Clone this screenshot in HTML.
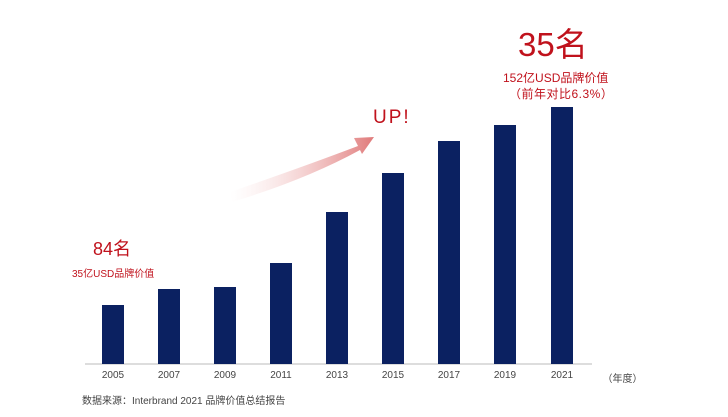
<!DOCTYPE html><html><head><meta charset="utf-8"><style>
body{margin:0;width:728px;height:417px;background:#fff;overflow:hidden;position:relative;font-family:"Liberation Sans","Noto Sans CJK SC",sans-serif}
.b{position:absolute;width:22px;background:#0b2161;bottom:53px}
.l{position:absolute;top:370px;font-size:10px;color:#444;width:40px;text-align:center}
.t{position:absolute;color:#c0121c;white-space:nowrap}
</style></head><body>
<svg width="728" height="417" style="position:absolute;left:0;top:0">
<defs><linearGradient id="g" x1="0" x2="1" y1="0" y2="0"><stop offset="0" stop-color="#f6d6d6" stop-opacity="0"/><stop offset="1" stop-color="#e07a7a"/></linearGradient></defs>
<path d="M230,192 Q300,168 358,146 L354,138 L374,137 L362,154 L360,150 Q305,180 232,202 Z" fill="url(#g)"/>
<line x1="85" y1="364" x2="592" y2="364" stroke="#bbb" stroke-width="1"/>
</svg>
<div class="b" style="left:102px;height:59px"></div>
<div class="b" style="left:158px;height:75px"></div>
<div class="b" style="left:214px;height:77px"></div>
<div class="b" style="left:270px;height:101px"></div>
<div class="b" style="left:326px;height:152px"></div>
<div class="b" style="left:382px;height:191px"></div>
<div class="b" style="left:438px;height:223px"></div>
<div class="b" style="left:494px;height:239px"></div>
<div class="b" style="left:551px;height:257px"></div>
<div class="l" style="left:93px">2005</div><div class="l" style="left:149px">2007</div><div class="l" style="left:205px">2009</div><div class="l" style="left:261px">2011</div><div class="l" style="left:317px">2013</div><div class="l" style="left:373px">2015</div><div class="l" style="left:429px">2017</div><div class="l" style="left:485px">2019</div><div class="l" style="left:542px">2021</div>
<div class="l" style="left:600px;width:45px;font-size:10px">（年度）</div>
<div style="position:absolute;left:82px;top:392px;font-size:10px;color:#444">数据来源：Interbrand 2021 品牌价值总结报告</div>
<div class="t" style="left:93px;top:235px;font-size:18px">84名</div>
<div class="t" style="left:72px;top:265px;font-size:10px">35亿USD品牌价值</div>
<div class="t" style="left:373px;top:107px;font-size:19px;letter-spacing:2px">UP!</div>
<div class="t" style="left:518px;top:18px;font-size:33px">35名</div>
<div class="t" style="left:503px;top:69px;font-size:12px">152亿USD品牌价值</div>
<div class="t" style="left:509px;top:85px;font-size:12px;letter-spacing:0.5px">（前年对比6.3%）</div>
</body></html>
